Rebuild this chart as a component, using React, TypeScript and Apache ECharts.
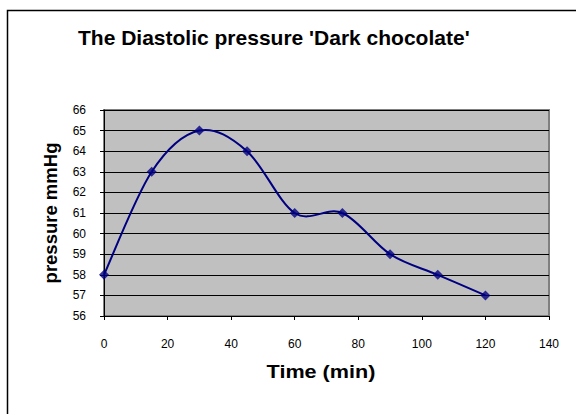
import React, { useEffect, useRef } from "react";
import * as echarts from "echarts";

const times = [0, 15, 30, 45, 60, 75, 90, 105, 120];
const pressure = [58, 63, 65, 64, 61, 61, 59, 58, 57];
const titleText = "The Diastolic pressure 'Dark chocolate'";
const xName = "Time (min)";
const yName = "pressure mmHg";

export default function App() {
  const ref = useRef<HTMLDivElement>(null);
  useEffect(() => {
    const chart = echarts.init(ref.current!, null, { renderer: "svg" });
    const data = times.map((t, i) => [t, pressure[i]]);
    const segments = times.slice(0, -1).map((t, i) => [t, pressure[i], i]);
    const font = "Liberation Sans, Arial";
    const n = times.length;
    chart.setOption({
      animation: false,
      backgroundColor: "#fff",
      graphic: [
        {
          type: "rect",
          shape: { x: 7.5, y: 10.5, width: 620, height: 430 },
          style: { fill: "none", stroke: "#000", lineWidth: 1.5 },
          silent: true,
        },
        {
          type: "text",
          x: 78,
          y: 37,
          style: {
            text: titleText,
            fontFamily: font,
            fontSize: 21,
            fontWeight: "bold",
            fill: "#000",
            align: "left",
            verticalAlign: "middle",
          },
        },
        {
          type: "text",
          x: 321,
          y: 372,
          scaleX: 1.2,
          style: {
            text: xName,
            fontFamily: font,
            fontSize: 18,
            fontWeight: "bold",
            fill: "#000",
            align: "center",
            verticalAlign: "middle",
          },
        },
        {
          type: "text",
          x: 50,
          y: 213,
          rotation: Math.PI / 2,
          style: {
            text: yName,
            fontFamily: font,
            fontSize: 18.5,
            fontWeight: "bold",
            fill: "#000",
            align: "center",
            verticalAlign: "middle",
          },
        },
      ],
      grid: {
        left: 104,
        top: 110,
        width: 445,
        height: 206,
        show: true,
        backgroundColor: "#c0c0c0",
        borderColor: "#808080",
        borderWidth: 2,
      },
      xAxis: {
        type: "value",
        min: 0,
        max: 140,
        interval: 20,
        axisLine: { show: true, lineStyle: { color: "#000", width: 1 } },
        axisTick: { show: true, inside: false, length: 4, lineStyle: { color: "#000" } },
        axisLabel: { margin: 22, fontFamily: font, fontSize: 12, color: "#000" },
        splitLine: { show: false },
      },
      yAxis: {
        type: "value",
        min: 56,
        max: 66,
        interval: 1,
        axisLine: { show: true, lineStyle: { color: "#000", width: 1 } },
        axisTick: { show: true, length: 4, lineStyle: { color: "#000" } },
        axisLabel: { margin: 18, fontFamily: font, fontSize: 12, color: "#000" },
        splitLine: { show: true, lineStyle: { color: "#000", width: 1 } },
      },
      series: [
        {
          type: "custom",
          data: segments,
          encode: { x: 0, y: 1 },
          renderItem: (params: any, api: any) => {
            const i = params.dataIndex;
            const pt = (k: number) => {
              const j = Math.max(0, Math.min(n - 1, k));
              return api.coord([times[j], pressure[j]]);
            };
            const p0 = pt(i - 1);
            const p1 = pt(i);
            const p2 = pt(i + 1);
            const p3 = pt(i + 2);
            const t = 1 / 6;
            return {
              type: "bezierCurve",
              shape: {
                x1: p1[0],
                y1: p1[1],
                x2: p2[0],
                y2: p2[1],
                cpx1: p1[0] + (p2[0] - p0[0]) * t,
                cpy1: p1[1] + (p2[1] - p0[1]) * t,
                cpx2: p2[0] - (p3[0] - p1[0]) * t,
                cpy2: p2[1] - (p3[1] - p1[1]) * t,
              },
              style: { stroke: "#000080", lineWidth: 2, fill: "none" },
            };
          },
          z: 2,
        },
        {
          type: "scatter",
          data,
          symbol: "diamond",
          symbolSize: 10,
          itemStyle: { color: "#000080" },
          z: 3,
        },
      ],
    });
    return () => chart.dispose();
  }, []);
  return (
    <div
      ref={ref}
      style={{ position: "absolute", left: 0, top: 0, width: 576, height: 414 }}
    />
  );
}
